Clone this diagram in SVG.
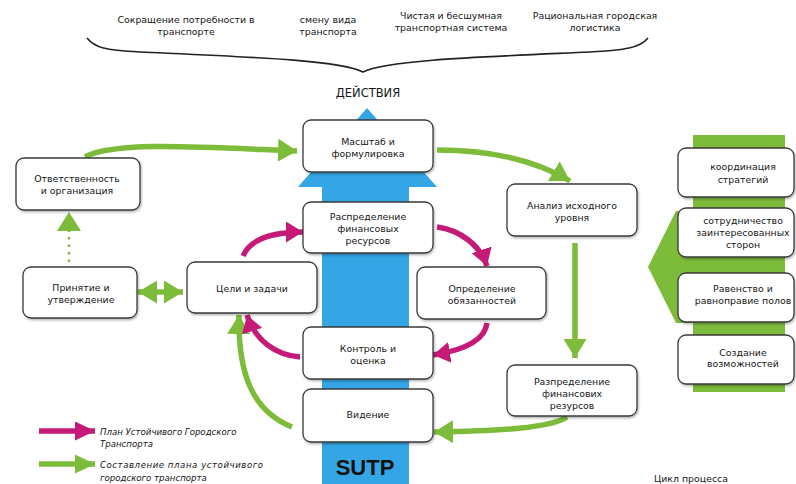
<svg xmlns="http://www.w3.org/2000/svg" width="796" height="484" viewBox="0 0 796 484">
<defs>
<style>
.box{fill:#fff;stroke:#3a3a3a;stroke-width:1.3;filter:url(#sh)}
.t{font-family:"DejaVu Sans",Verdana,sans-serif;font-size:9.4px;fill:#161616;text-anchor:middle}
.lg{font-family:"DejaVu Sans",Verdana,sans-serif;font-size:8.6px;font-style:italic;fill:#161616}
.g{fill:none;stroke:#7dbb3a;stroke-width:5.5}
.m{fill:none;stroke:#c51a78;stroke-width:5.5}
</style>
<filter id="sh" x="-10%" y="-10%" width="130%" height="140%">
<feDropShadow dx="1" dy="1.5" stdDeviation="0.8" flood-color="#000" flood-opacity="0.3"/>
</filter>
<marker id="ga" viewBox="0 0 10 10" preserveAspectRatio="none" refX="10" refY="5" markerUnits="userSpaceOnUse" markerWidth="19" markerHeight="23" orient="auto-start-reverse">
<path d="M0,0 L10,5 L0,10 z" fill="#7dbb3a"/>
</marker>
<marker id="ma" viewBox="0 0 10 10" preserveAspectRatio="none" refX="10" refY="5" markerUnits="userSpaceOnUse" markerWidth="17" markerHeight="21" orient="auto">
<path d="M0,0 L10,5 L0,10 z" fill="#c51a78"/>
</marker>
<marker id="gl" viewBox="0 0 10 10" preserveAspectRatio="none" refX="10" refY="5" markerUnits="userSpaceOnUse" markerWidth="20" markerHeight="19" orient="auto">
<path d="M0,0 L10,5 L0,10 z" fill="#7dbb3a"/>
</marker>
<marker id="ml" viewBox="0 0 10 10" preserveAspectRatio="none" refX="10" refY="5" markerUnits="userSpaceOnUse" markerWidth="20" markerHeight="19" orient="auto">
<path d="M0,0 L10,5 L0,10 z" fill="#c51a78"/>
</marker>
</defs>
<rect width="796" height="484" fill="#fff"/>

<g id="top-actions">
<text class="t" x="186" y="23">Сокращение потребности в</text>
<text class="t" x="186" y="35">транспорте</text>
<text class="t" x="328" y="23">смену вида</text>
<text class="t" x="328" y="35">транспорта</text>
<text class="t" x="451" y="19">Чистая и бесшумная</text>
<text class="t" x="451" y="31">транспортная система</text>
<text class="t" x="595" y="19">Рациональная городская</text>
<text class="t" x="595" y="31">логистика</text>
<path d="M87,38 C95,48 105,50 140,52 C250,57 340,60 363,72 C386,60 480,57 590,52 C625,50 640,48 648,38" fill="none" stroke="#222" stroke-width="1.6"/>
<text x="368" y="97" font-family="DejaVu Sans,Verdana,sans-serif" font-size="11.5" fill="#161616" text-anchor="middle">ДЕЙСТВИЯ</text>
</g>

<g id="sutp-arrow">
<polygon points="367,108 437,187 409,187 409,484 322,484 322,187 298,187" fill="#34a6e6"/>
<text x="365" y="475" font-family="Liberation Sans,Arial,sans-serif" font-size="22" font-weight="bold" fill="#111" text-anchor="middle">SUTP</text>
</g>

<g id="side-arrow">
<rect x="693" y="135" width="92" height="257" fill="#7dbb3a"/>
<polygon points="648,267 676,211 700,211 700,323 676,323" fill="#7dbb3a"/>
</g>

<g id="connectors">
<path class="g" d="M85,157 C115,141 200,147 297,151" marker-end="url(#ga)"/>
<path class="g" d="M437,150 C490,150 535,160 570,181" marker-end="url(#ga)"/>
<path class="g" d="M575,243 L575,358" marker-end="url(#ga)"/>
<path class="g" d="M567,417 C550,428 500,431 434,432" marker-end="url(#ga)"/>
<path class="g" d="M292,427 C250,410 238,370 239,315" marker-end="url(#ga)"/>
<path d="M69,262 L69,230" fill="none" stroke="#7dbb3a" stroke-width="2.5" stroke-dasharray="2.5,5"/>
<polygon points="69,212 57,231 81,231" fill="#7dbb3a"/>
<path class="g" d="M138,292 L183,292" marker-start="url(#ga)" marker-end="url(#ga)"/>
<path class="m" d="M243,256 C250,240 270,232 303,232" marker-end="url(#ma)"/>
<path class="m" d="M437,227 C460,230 480,245 487,266" marker-end="url(#ma)"/>
<path class="m" d="M487,323 C485,340 465,350 433,355" marker-end="url(#ma)"/>
<path class="m" d="M300,357 C275,355 255,340 247,315" marker-end="url(#ma)"/>
</g>

<g id="n-otv"><rect class="box" x="16" y="158" width="124" height="52" rx="8"/>
<text class="t" x="77" y="181.5">Ответственность</text><text class="t" x="77" y="193.5">и организация</text></g>
<g id="n-mas"><rect class="box" x="303" y="120" width="130" height="52" rx="8"/>
<text class="t" x="368" y="145">Масштаб и</text><text class="t" x="368" y="157">формулировка</text></g>
<g id="n-prin"><rect class="box" x="23" y="267" width="114" height="51" rx="8"/>
<text class="t" x="81" y="290.5">Принятие и</text><text class="t" x="81" y="302.5">утверждение</text></g>
<g id="n-celi"><rect class="box" x="187" y="262" width="130" height="51" rx="8"/>
<text class="t" x="252" y="291.5">Цели и задачи</text></g>
<g id="n-raspr"><rect class="box" x="303" y="202" width="130" height="51" rx="8"/>
<text class="t" x="368" y="219.5">Распределение</text><text class="t" x="368" y="231.5">финансовых</text><text class="t" x="368" y="243.5">ресурсов</text></g>
<g id="n-opr"><rect class="box" x="417" y="267" width="129" height="52" rx="8"/>
<text class="t" x="482" y="291.5">Определение</text><text class="t" x="482" y="303.5">обязанностей</text></g>
<g id="n-kontr"><rect class="box" x="303" y="327" width="130" height="52" rx="8"/>
<text class="t" x="368" y="351.5">Контроль и</text><text class="t" x="368" y="363.5">оценка</text></g>
<g id="n-vid"><rect class="box" x="303" y="389" width="130" height="53" rx="8"/>
<text class="t" x="368" y="417.5">Видение</text></g>
<g id="n-anal"><rect class="box" x="507" y="184" width="130" height="52" rx="8"/>
<text class="t" x="572" y="208.5">Анализ исходного</text><text class="t" x="572" y="220.5">уровня</text></g>
<g id="n-razp"><rect class="box" x="507" y="365" width="130" height="51" rx="8"/>
<text class="t" x="572" y="384.5">Разпределение</text><text class="t" x="572" y="396.5">финансових</text><text class="t" x="572" y="408.5">резурсов</text></g>
<g id="n-koord"><rect class="box" x="678" y="148" width="116" height="49" rx="8"/>
<text class="t" x="743" y="170">координация</text><text class="t" x="743" y="182.5">стратегий</text></g>
<g id="n-sotr"><rect class="box" x="678" y="208" width="116" height="49" rx="8"/>
<text class="t" x="743" y="223.5">сотрудничество</text><text class="t" x="743" y="235.5">заинтересованных</text><text class="t" x="743" y="248">сторон</text></g>
<g id="n-rav"><rect class="box" x="678" y="273" width="116" height="49" rx="8"/>
<text class="t" x="743" y="291.5">Равенство и</text><text class="t" x="743" y="303.5">равноправие полов</text></g>
<g id="n-sozd"><rect class="box" x="678" y="335" width="116" height="49" rx="8"/>
<text class="t" x="743" y="355.5">Создание</text><text class="t" x="743" y="367">возможностей</text></g>

<g id="legend">
<path class="m" d="M39,431 L95,431" stroke-width="5" marker-end="url(#ml)"/>
<text class="lg" x="100" y="435">План Устойчивого Городского</text>
<text class="lg" x="100" y="447">Транспорта</text>
<path class="g" d="M39,464 L95,464" stroke-width="5" marker-end="url(#gl)"/>
<text class="lg" x="100" y="468" textLength="163" lengthAdjust="spacing">Составление  плана  устойчивого</text>
<text class="lg" x="100" y="481">городского транспорта</text>
<text class="t" x="691" y="482">Цикл процесса</text>
</g>
</svg>
